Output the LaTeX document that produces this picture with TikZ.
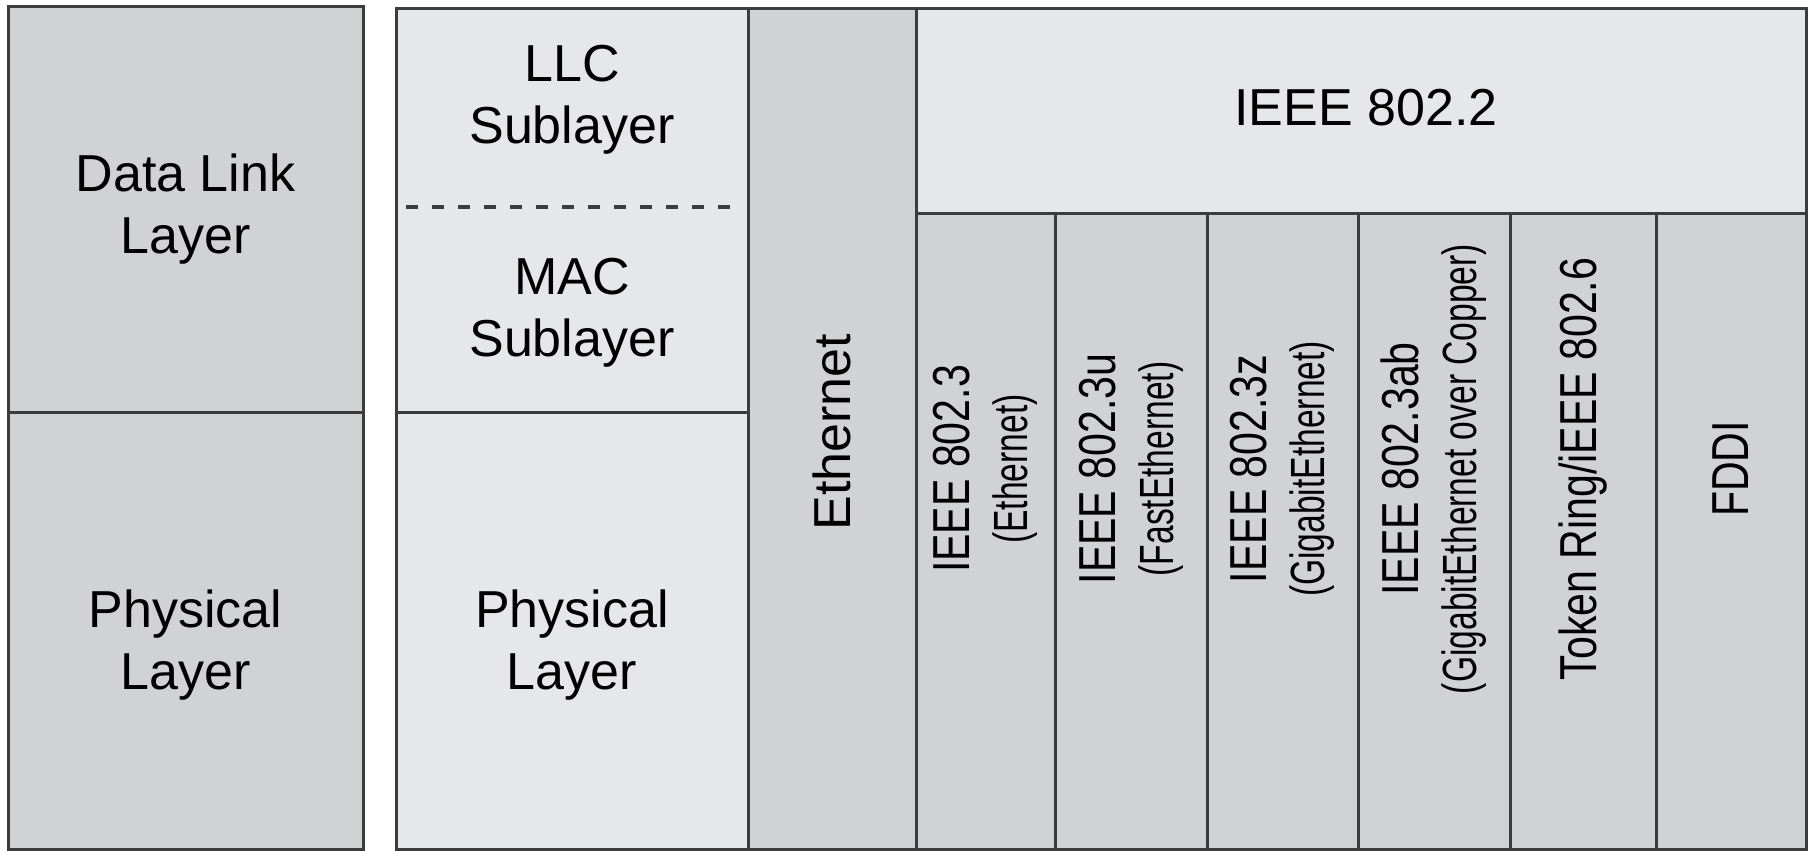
\documentclass[tikz,border=0pt]{standalone}
\usepackage{fontspec}
\setmainfont{Liberation Sans}
\newfontfamily\narrowfont[FakeStretch=0.79]{Liberation Sans}
\newfontfamily\narrowsubfont[FakeStretch=0.7]{Liberation Sans}
\usepackage{xcolor}
\definecolor{LYDark}{HTML}{D1D2D4}
\definecolor{LYLight}{HTML}{E6E7E8}
\definecolor{LYLine}{HTML}{3C3C3C}
\newcommand{\subline}[1]{{\narrowsubfont\fontsize{24}{29}\selectfont #1}}

\begin{document}
\begin{tikzpicture}[x=0.5pt,y=-0.5pt,
  dk/.style={fill=LYDark,draw=LYLine,line width=1.5pt},
  lt/.style={fill=LYLight,draw=LYLine,line width=1.5pt},
  subsep/.style={draw=LYLine,line width=1.8pt,dash pattern=on 6pt off 7pt},
  t/.style={align=center,inner sep=0pt,font=\fontsize{26}{31}\selectfont},
  v/.style={rotate=90,align=center,inner sep=0pt,font=\narrowfont\fontsize{26}{29}\selectfont}]
\useasboundingbox (0,0) rectangle (1811,851);
% OSI side
\filldraw[dk] (8,6) rectangle (363,412);
\filldraw[dk] (8,412) rectangle (363,849);
\node[t] (dll) at (185.5,209) {Data Link\\Layer};
\node[t] (phy) at (185.5,645) {Physical\\Layer};
% sublayers
\filldraw[lt] (396,8) rectangle (748,412);
\draw[subsep] (406,207) -- (744,207);
\filldraw[lt] (396,412) rectangle (748,849);
\node[t] (llc) at (572,100) {LLC\\Sublayer};
\node[t] (mac) at (572,313) {MAC\\Sublayer};
\node[t] (phys) at (572,645) {Physical\\Layer};
% ethernet + 802.2
\filldraw[dk] (748,8) rectangle (916,849);
\node[t,rotate=90] (eth) at (832,432) {Ethernet};
\filldraw[lt] (916,8) rectangle (1806,213);
\node[t] (ieee) at (1366,108) {IEEE 802.2};
% standards
\foreach \xa/\xb/\txt [count=\i] in {
  916/1055/{IEEE 802.3\\\subline{(Ethernet)}},
  1055/1207/{IEEE 802.3u\\\subline{(FastEthernet)}},
  1207/1358/{IEEE 802.3z\\\subline{(GigabitEthernet)}},
  1358/1510/{IEEE 802.3ab\\\subline{(GigabitEthernet over Copper)}},
  1510/1656/{Token Ring/iEEE 802.6},
  1656/1806/{FDDI}}{
  \filldraw[dk] (\xa,213) rectangle (\xb,849);
  \node[v] (std\i) at ({(\xa+\xb)/2},469) {\txt};
}
\end{tikzpicture}
\end{document}
